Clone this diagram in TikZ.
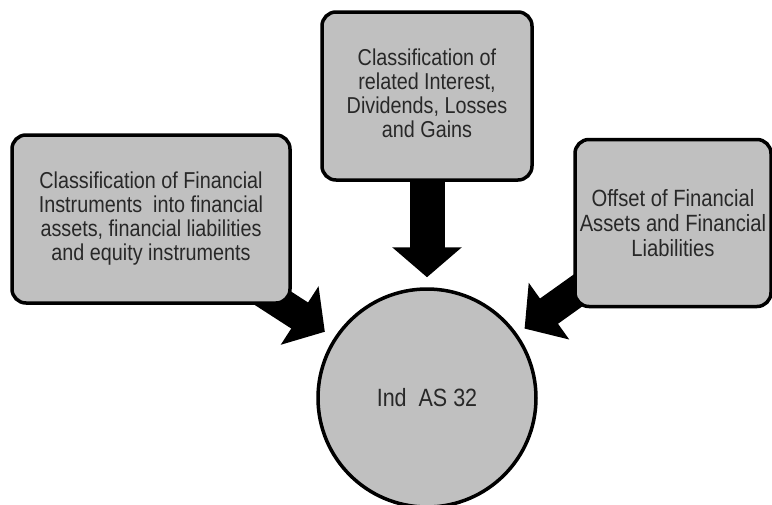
\documentclass[tikz,border=0pt]{standalone}
\usepackage{fontspec}
\setmainfont{Liberation Sans}[FakeStretch=0.86]
\usepackage{tikz}
\usetikzlibrary{arrows.meta}
\usetikzlibrary{backgrounds}
\definecolor{boxgray}{RGB}{192,192,192}
\definecolor{textgray}{RGB}{40,40,40}
\tikzset{
  infobox/.style={rectangle, rounded corners=14pt, draw=black, line width=3.5pt, fill=boxgray,
    align=center, text=textgray, font=\fontsize{23}{24}\selectfont, inner sep=4pt},
  bigarrow/.style={line width=35pt, -{Triangle[width=68pt,length=30pt]}, draw=black}
}
\begin{document}
\begin{tikzpicture}[x=1pt,y=-1pt]
        \useasboundingbox (0,0) rectangle (772,504);

        \node[circle,draw,line width=3.5pt,fill=boxgray,minimum size=218pt,text=textgray,
              font=\fontsize{25}{25}\selectfont]   (hub) at (427, 398)   {Ind~ AS 32};

        \node[infobox, minimum width=210pt, minimum height=168pt, text depth=6pt]   (top) at (427, 96)
              {Classification of\\related Interest,\\Dividends, Losses\\and Gains};
        \node[infobox, minimum width=278pt, minimum height=168pt]   (left) at (151, 219)
              {Classification of Financial\\Instruments~ into financial\\assets, financial liabilities\\and equity instruments};
        \node[infobox, minimum width=196pt, minimum height=167pt, font=\fontsize{23.5}{25}\selectfont]
              (right) at (673, 223)
              {Offset of Financial\\Assets and Financial\\Liabilities};

        % arrows sit under the boxes
        \begin{scope}[on background layer]
          \draw[bigarrow, shorten <=-12pt, shorten >=10pt]  (top) -- (hub);
          \draw[bigarrow, line width=31pt, shorten <=-30pt, shorten >=11pt]  (left) -- (hub);
          \draw[bigarrow, line width=31pt, shorten <=-30pt, shorten >=9pt]  (right) -- (hub);
        \end{scope}
\end{tikzpicture}
\end{document}
